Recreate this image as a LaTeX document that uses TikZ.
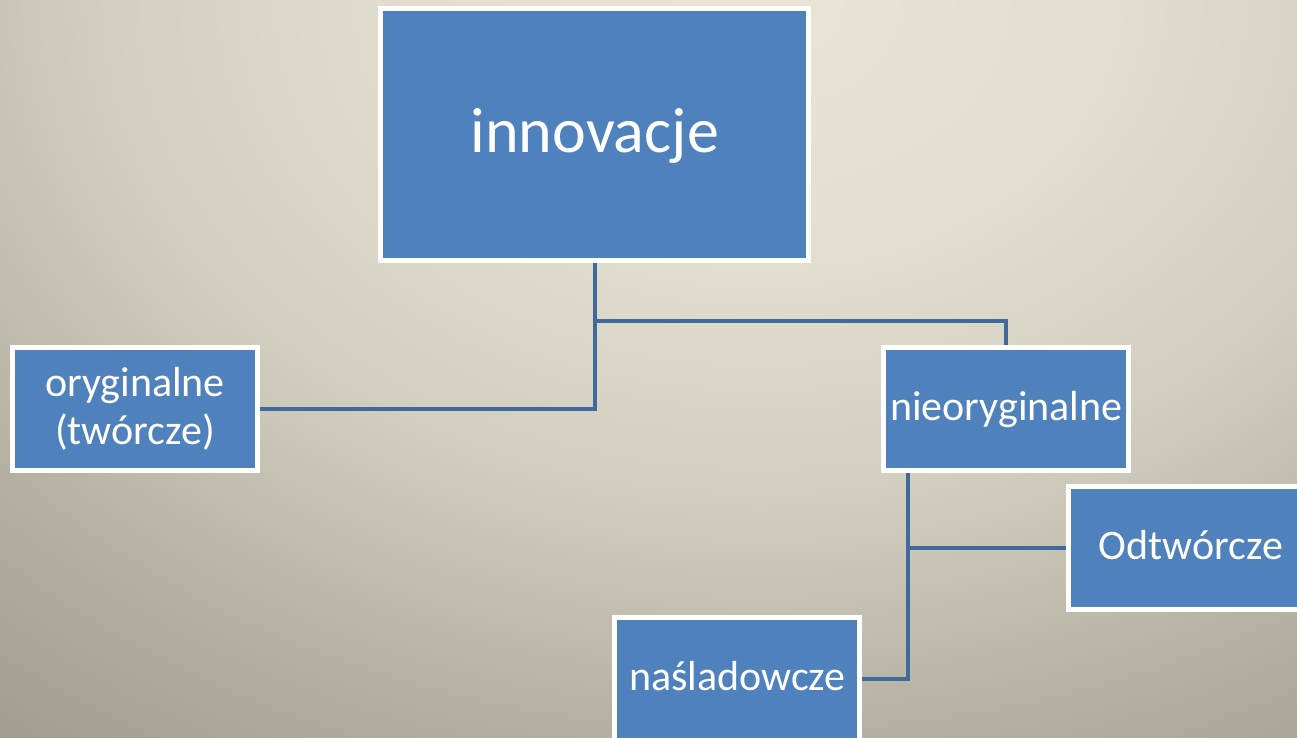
\documentclass[tikz,border=0pt]{standalone}
\usepackage{fontspec}
\setmainfont{Carlito}
\pgfdeclarelayer{back}
\pgfdeclarelayer{lines}
\pgfsetlayers{back,lines,main}
\definecolor{boxblue}{HTML}{4F81BD}
\definecolor{linkblue}{HTML}{41699B}
\definecolor{bgA}{HTML}{E8E4D6}
\definecolor{bgB}{HTML}{E2DED0}
\definecolor{bgC}{HTML}{D1CDBF}
\definecolor{bgD}{HTML}{B2AEA0}
\definecolor{bgE}{HTML}{9A9688}
\pgfdeclareradialshading{bgshade}{\pgfpointorigin}{color(0bp)=(bgA); color(6.25bp)=(bgB); color(12.5bp)=(bgC); color(18.75bp)=(bgD); color(25bp)=(bgE); color(50bp)=(bgE)}
\begin{document}
\begin{tikzpicture}[x=1pt,y=-1pt,
  box/.style={draw=white, line width=5pt, fill=boxblue, text=white, inner sep=0pt,
    align=center, minimum width=245pt, minimum height=123pt,
    font=\fontsize{42}{48}\selectfont},
  oneline/.style={text height=32pt, text depth=10pt},
  link/.style={draw=linkblue, line width=4pt}]
\useasboundingbox (0,0) rectangle (1297,737);
\clip (0,0) rectangle (1297,737);

\node[box, minimum width=428pt, minimum height=252pt,
  font=\fontsize{64}{77}\selectfont, text height=48pt, text depth=12pt] (inn) at (594.8,134) {innovacje};
\node[box] (ory) at (135,409) {oryginalne\\(twórcze)};
\node[box, oneline] (nie) at (1006.3,409) {nieoryginalne};
\node[box, oneline] (odt) at (1191,548.3) {Odtwórcze};
\node[box, oneline] (nas) at (737.3,679) {naśladowcze};

\coordinate (j1) at (594.8,321);
\coordinate (n1) at (908,470);
\coordinate (j2) at (908,548.3);

\begin{pgfonlayer}{lines}
\draw[link] (inn.south) |- (ory.east);
\draw[link] (j1) -| (nie.north);
\draw[link] (n1) |- (nas.east);
\draw[link] (j2) -- (odt.west);
\end{pgfonlayer}

\begin{pgfonlayer}{back}
\clip (0,0) rectangle (1297,737);
\shade[shading=bgshade] (760,0) ellipse [x radius=1340pt, y radius=1004pt];
\end{pgfonlayer}
\end{tikzpicture}
\end{document}
